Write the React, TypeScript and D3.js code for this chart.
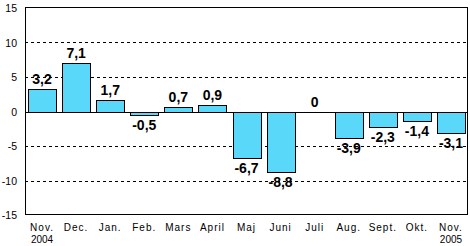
import React from "react";
import * as d3 from "d3";

const categories = ["Nov.|2004", "Dec.", "Jan.", "Feb.", "Mars", "April", "Maj", "Juni", "Juli", "Aug.", "Sept.", "Okt.", "Nov.|2005"];
const values = [3.2, 7.1, 1.7, -0.5, 0.7, 0.9, -6.7, -8.8, 0, -3.9, -2.3, -1.4, -3.1];
const valueLabels = ["3,2", "7,1", "1,7", "-0,5", "0,7", "0,9", "-6,7", "-8,8", "0", "-3,9", "-2,3", "-1,4", "-3,1"];
const yTicks = [15, 10, 5, 0, -5, -10, -15];

export default function App() {
  const W = 470, H = 246;
  const left = 25, right = 467, top = 8, bottom = 215;
  const x = d3.scaleBand<number>().domain(d3.range(categories.length)).range([left, right + 1]).paddingInner(0.18).paddingOuter(0.09);
  const y = d3.scaleLinear().domain([-15, 15]).range([bottom, top]);
  const font = "'Liberation Sans', Arial, sans-serif";
  const narrow = "'Liberation Sans Narrow', 'Arial Narrow', 'Liberation Sans', sans-serif";
  return (
    <svg width={W} height={H} style={{ position: "absolute", left: 0, top: 0 }}>
      <rect x={0} y={0} width={W} height={H} fill="#fff" />
      {yTicks.filter(t => t !== 0 && Math.abs(t) !== 15).map(t => (
        <line key={t} x1={left} x2={right} y1={Math.round(y(t)) + 0.5} y2={Math.round(y(t)) + 0.5} stroke="#000" strokeDasharray="3,3" />
      ))}
      {yTicks.map(t => (
        <text key={"l" + t} x={17} y={y(t) + 4} textAnchor="end" fontFamily={font} fontSize={10.5}>{t}</text>
      ))}
      {values.map((v, i) => {
        const y0 = Math.round(y(0)) + 0.5;
        const yv = Math.round(y(v)) + 0.5;
        const bx = Math.round(x(i)!) + 0.5;
        const bw = Math.round(x.bandwidth());
        return v === 0 ? null : (
          <rect key={i} x={bx} y={Math.min(y0, yv)} width={bw} height={Math.abs(yv - y0)} fill="#5AD8FA" stroke="#000" strokeWidth={1} />
        );
      })}
      <line x1={left} x2={right} y1={Math.round(y(0)) + 0.5} y2={Math.round(y(0)) + 0.5} stroke="#000" />
      <rect x={left + 0.5} y={top - 0.5} width={right - left} height={bottom - top} fill="none" stroke="#000" />
      {values.map((v, i) => {
        const cx = x(i)! + x.bandwidth() / 2;
        const ly = v >= 0 ? y(v) - 5 : y(v) + 15;
        return (
          <text key={"v" + i} x={cx} y={ly} textAnchor="middle" fontFamily={narrow} fontWeight="bold" fontSize={14}>{valueLabels[i]}</text>
        );
      })}
      {categories.map((c, i) => {
        const cx = x(i)! + x.bandwidth() / 2;
        const [a, b] = c.split("|");
        return (
          <g key={"c" + i}>
            <text x={cx} y={231} textAnchor="middle" fontFamily={font} fontSize={10} letterSpacing={1}>{a}</text>
            {b && <text x={cx} y={243} textAnchor="middle" fontFamily={font} fontSize={10}>{b}</text>}
          </g>
        );
      })}
    </svg>
  );
}
